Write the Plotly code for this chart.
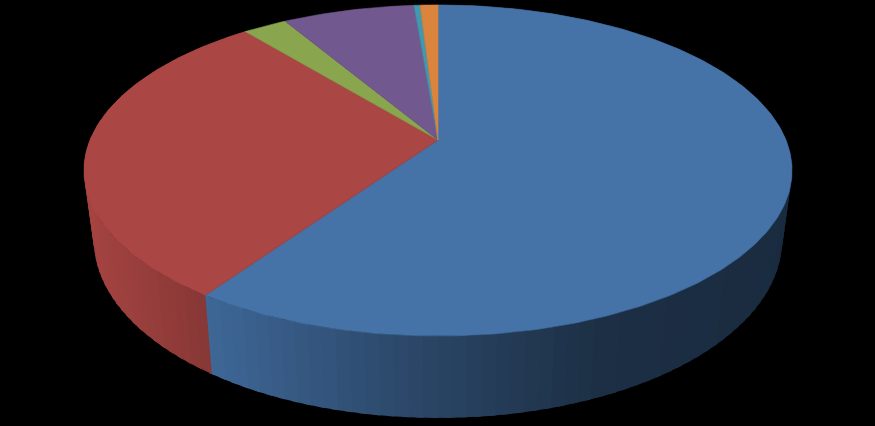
import numpy as np
import plotly.graph_objects as go

# slice shares in percent, clockwise from 12 o'clock
shares = [59.6, 29.5, 2.4, 7.2, 0.33, 0.97]
top_colors = ["#4572a7", "#aa4643", "#89a54e", "#71588f", "#4198af", "#db843d"]

# wall shading by screen x, only the two slices that show a wall
wall_x = {0: [205, 400, 600, 792], 1: [84, 205]}
wall_shade = {0: [0.90, 0.63, 0.41, 0.38], 1: [0.97, 0.79]}

# tilted disc, as a perspective view of a unit circle
apex_x, apex_y = 438, 140
half_w = 348
half_h = 159.9
tilt = 0.184
# the bottom rim is the top one squeezed in x, stretched in y and moved down
top_center_y = 170.5
base_center_y = 240
base_sx = 0.972
base_sy = 1.0755


def rim(deg):
    t = np.radians(deg)
    u, v = np.sin(t), np.cos(t)
    w = 1 + tilt * v
    return apex_x + half_w * u / w, apex_y - half_h * v / w


def base(x, y):
    return (apex_x + base_sx * (x - apex_x),
            base_center_y + base_sy * (y - top_center_y))


def darker(color, f):
    r, g, b = [int(color[i:i + 2], 16) for i in (1, 3, 5)]
    return f"rgb({r * f:.0f},{g * f:.0f},{b * f:.0f})"


edges = np.cumsum([0] + shares) * 360 / sum(shares)
fig = go.Figure()


def add_poly(xs, ys, color, width=0.6):
    fig.add_trace(go.Scatter(x=xs, y=ys, mode="lines", fill="toself", fillcolor=color,
                             line=dict(color=color, width=width), hoverinfo="skip"))


# walls first, the top faces paint over whatever is behind
# each band runs a little under the next one so no seams show
for i in wall_x:
    steps = np.arange(edges[i], edges[i + 1], 2.0)
    steps = np.append(steps, edges[i + 1])
    for a, b in zip(steps[:-1], steps[1:]):
        arc = np.linspace(a, min(b + 1.0, edges[i + 1] + 0.5), 4)
        tx, ty = rim(arc)
        bx, by = base(tx, ty)
        f = np.interp(tx.mean(), wall_x[i], wall_shade[i])
        add_poly(np.concatenate([tx, bx[::-1]]), np.concatenate([ty, by[::-1]]),
                 darker(top_colors[i], f), width=0)

for i, color in enumerate(top_colors):
    arc = np.linspace(edges[i], edges[i + 1], int(shares[i] * 4) + 3)
    tx, ty = rim(arc)
    add_poly(np.concatenate([[apex_x], tx, [apex_x]]), np.concatenate([[apex_y], ty, [apex_y]]), color)

fig.update_layout(
    width=875, height=426, margin=dict(l=0, r=0, t=0, b=0),
    paper_bgcolor="black", plot_bgcolor="black", showlegend=False,
    xaxis=dict(range=[0, 875], visible=False),
    yaxis=dict(range=[426, 0], visible=False),
)

fig.write_html("out.html", config=dict(displayModeBar=False),
               post_script="document.body.style.margin='0';document.body.style.background='black';")
